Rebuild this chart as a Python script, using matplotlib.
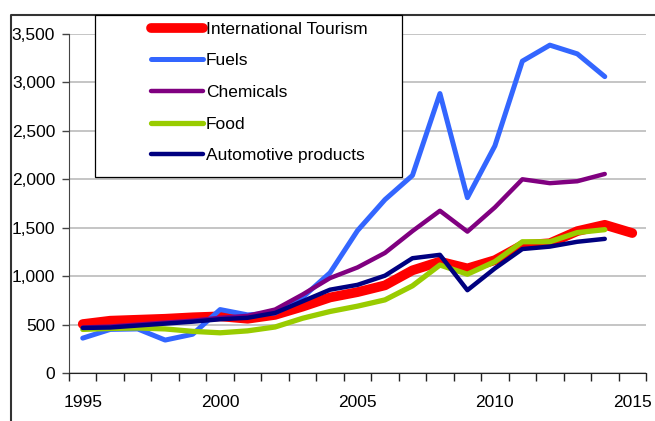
import matplotlib.pyplot as plt
from matplotlib.lines import Line2D
from matplotlib.patches import Rectangle
from matplotlib.ticker import FuncFormatter, FixedLocator

plt.rcParams['font.family'] = ['Liberation Sans', 'DejaVu Sans']

# exports / receipts, USD billion
years = list(range(1995, 2016))
tourism = [505, 540, 550, 560, 575, 585, 560, 600, 685, 780, 835, 905, 1060,
           1150, 1080, 1165, 1320, 1340, 1465, 1530, 1445]
fuels = [360, 450, 455, 340, 400, 655, 600, 620, 780, 1035, 1470, 1790, 2040,
         2885, 1810, 2345, 3220, 3385, 3295, 3060]
chemicals = [470, 480, 500, 520, 540, 570, 590, 655, 810, 980, 1090, 1240,
             1465, 1675, 1460, 1710, 2000, 1960, 1980, 2055]
food = [450, 460, 465, 455, 430, 415, 435, 475, 565, 635, 690, 755, 900,
        1115, 1020, 1150, 1355, 1355, 1450, 1480]
automotive = [465, 470, 490, 510, 530, 555, 570, 620, 740, 860, 910, 1005,
              1185, 1220, 855, 1080, 1280, 1305, 1355, 1385]

W, H = 655, 421
fig = plt.figure(figsize=(W / 100, H / 100), dpi=100)
ax = fig.add_axes([69 / W, (H - 373) / H, (646 - 69) / W, (373 - 34) / H])

fs = 12.5
ax.plot(years, tourism, color='#FF0000', lw=7, solid_capstyle='round',
        label='International Tourism')
ax.plot(years[:-1], fuels, color='#3366FF', lw=3.6, solid_capstyle='round',
        label='Fuels')
ax.plot(years[:-1], chemicals, color='#800080', lw=3.2, solid_capstyle='round',
        label='Chemicals')
ax.plot(years[:-1], food, color='#99CC00', lw=3.8, solid_capstyle='round',
        label='Food')
ax.plot(years[:-1], automotive, color='#000080', lw=3.2, solid_capstyle='round',
        label='Automotive products')

ax.set_xlim(1994.5, 2015.5)
ax.set_ylim(0, 3500)
ax.set_yticks(range(0, 3501, 500))
ax.yaxis.set_major_formatter(FuncFormatter(lambda v, p: f'{int(v):,}'))
ax.grid(axis='y', color='#BBBBBB', lw=1.2)
ax.set_axisbelow(True)

ax.xaxis.set_major_locator(FixedLocator([1995, 2000, 2005, 2010, 2015]))
ax.xaxis.set_minor_locator(FixedLocator([y + 0.5 for y in range(1994, 2016)]))
ax.tick_params(axis='x', which='major', length=0, pad=16, labelsize=fs)
ax.tick_params(axis='x', which='minor', length=6, width=1, color='#222222')
ax.tick_params(axis='y', length=5, width=1, pad=5, labelsize=fs,
               color='#444444')

for s in ('top', 'right'):
    ax.spines[s].set_visible(False)
ax.spines['left'].set_color('#444444')
ax.spines['bottom'].set_color('#222222')

# outer chart border
fig.add_artist(Line2D([11 / W, 11 / W, 1], [0, 1 - 15 / H, 1 - 15 / H],
                      transform=fig.transFigure, color='#333333', lw=1.5))

# legend box
fig.add_artist(Rectangle((95 / W, 1 - 177 / H), 307 / W, 162 / H,
                         transform=fig.transFigure, facecolor='white',
                         edgecolor='black', lw=0.9, zorder=3))
fig.legend(loc='upper left', bbox_to_anchor=(151 / W, 1 - 21.5 / H),
           frameon=False, fontsize=fs, borderpad=0, borderaxespad=0,
           handlelength=3.0, handletextpad=0.15, labelspacing=0.95)

fig.savefig('out.png', dpi=100)
